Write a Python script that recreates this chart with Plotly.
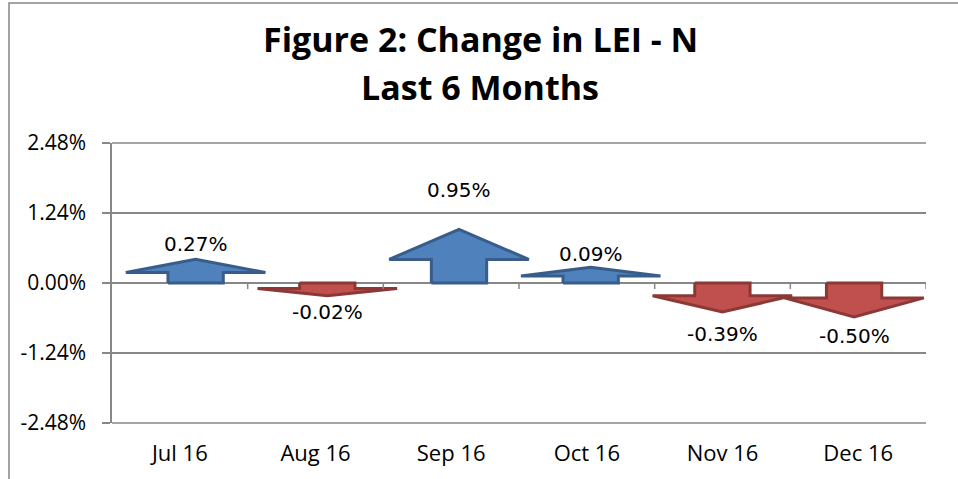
import plotly.graph_objects as go

# ---- data ----
categories = ["Jul 16", "Aug 16", "Sep 16", "Oct 16", "Nov 16", "Dec 16"]
values = [0.27, -0.02, 0.95, 0.09, -0.39, -0.50]          # % change
y_ticks = [-2.48, -1.24, 0.00, 1.24, 2.48]
y_tick_labels = ["-2.48%", "-1.24%", "0.00%", "1.24%", "2.48%"]
title_lines = ["Figure 2: Change in LEI - N", "Last 6 Months"]

# ---- style ----
UP_FILL, UP_LINE = "#4F81BD", "#385D8A"
DN_FILL, DN_LINE = "#C0504D", "#8C3836"
GRID = "#878787"
HEAD_W, SHAFT_W = 1.06, 0.42          # in category units (overlay axis)
MIN_LEN, LEN_SCALE, HEAD_FRAC = 0.21, 0.78, 0.56
LABEL_GAP_PX = [15, 16, 39, 13, 22, 19]
Y_TICK_FONT = dict(family="Open Sans", size=21, color="#000000")
X_TICK_FONT = dict(family="Open Sans", size=22, color="#000000")
LABEL_FONT = dict(family="DejaVu Sans", size=20, color="#000000")
TITLE_FONT = dict(family="Open Sans", size=34, color="#000000")

L_M, R_M, T_M, B_M = 112, 32, 143, 56
PLOT_H = 479 - T_M - B_M
PLOT_W = 958 - L_M - R_M

fig = go.Figure()

# invisible base trace to establish category axis
fig.add_trace(go.Scatter(x=categories, y=[None] * len(categories), mode="markers",
                         showlegend=False, hoverinfo="skip"))

annotations = []
for i, v in enumerate(values):
    s = 1 if v >= 0 else -1
    L = MIN_LEN + LEN_SCALE * abs(v)
    H = HEAD_FRAC * L
    S = L - H
    c = i
    xs = [c - SHAFT_W / 2, c - SHAFT_W / 2, c - HEAD_W / 2, c, c + HEAD_W / 2,
          c + SHAFT_W / 2, c + SHAFT_W / 2, c - SHAFT_W / 2]
    ys = [0, s * S, s * S, s * L, s * S, s * S, 0, 0]
    fill, line = (UP_FILL, UP_LINE) if s > 0 else (DN_FILL, DN_LINE)
    fig.add_trace(go.Scatter(x=xs, y=ys, xaxis="x2", yaxis="y", mode="lines",
                             fill="toself", fillcolor=fill,
                             line=dict(color=line, width=3),
                             showlegend=False, hoverinfo="skip"))
    annotations.append(dict(x=c, y=s * L, xref="x2", yref="y",
                            text=f"{v:.2f}%", showarrow=False,
                            yshift=s * LABEL_GAP_PX[i], font=LABEL_FONT,
                            xanchor="center", yanchor="middle"))


def paper_y(py):
    return (479 - B_M - py) / PLOT_H


def paper_x(px):
    return (px - L_M) / PLOT_W


# title lines
for line_text, cy in zip(title_lines, [39, 87]):
    annotations.append(dict(x=paper_x(480), y=paper_y(cy), xref="paper", yref="paper",
                            text=f"<b>{line_text}</b>", showarrow=False,
                            font=TITLE_FONT, xanchor="center", yanchor="middle"))

shapes = []
# category tick marks on the zero line
for k in range(len(categories)):
    shapes.append(dict(type="line", xref="x", yref="y", x0=k + 0.5, x1=k + 0.5,
                       ysizemode="pixel", yanchor=0, y0=0, y1=-6,
                       line=dict(color=GRID, width=1.5)))
# gridlines at the top and bottom edges of the plot area
for yy in (0, 1):
    shapes.append(dict(type="line", xref="paper", yref="paper", x0=0, x1=1,
                       y0=yy, y1=yy, line=dict(color=GRID, width=1.5),
                       layer="below"))
# outer chart frame
shapes.append(dict(type="rect", xref="paper", yref="paper",
                   x0=paper_x(9), x1=paper_x(1000),
                   y0=paper_y(520), y1=paper_y(3),
                   line=dict(color=GRID, width=1.5), fillcolor="rgba(0,0,0,0)",
                   layer="below"))

fig.update_layout(
    width=958, height=479,
    margin=dict(l=L_M, r=R_M, t=T_M, b=B_M),
    paper_bgcolor="white", plot_bgcolor="white",
    showlegend=False,
    annotations=annotations,
    shapes=shapes,
    xaxis=dict(type="category", range=[-0.5, len(categories) - 0.5],
               showgrid=False, zeroline=False, showline=False, ticks="",
               tickfont=X_TICK_FONT, ticklabelstandoff=15, fixedrange=True),
    xaxis2=dict(overlaying="x", range=[-0.635, 5.546], visible=False,
                fixedrange=True),
    yaxis=dict(range=[-2.48, 2.48], tickvals=y_ticks, ticktext=y_tick_labels,
               showgrid=True, gridcolor=GRID, gridwidth=1.5,
               zeroline=True, zerolinecolor=GRID, zerolinewidth=1.5,
               showline=True, linecolor=GRID, linewidth=1.5,
               ticks="outside", ticklen=8, tickcolor=GRID, tickwidth=1.5,
               tickfont=Y_TICK_FONT, ticklabelstandoff=12, fixedrange=True),
)

fig.write_html(
    "out.html",
    config={"displayModeBar": False},
    post_script="document.body.style.margin='0';document.body.style.overflow='hidden';",
)
